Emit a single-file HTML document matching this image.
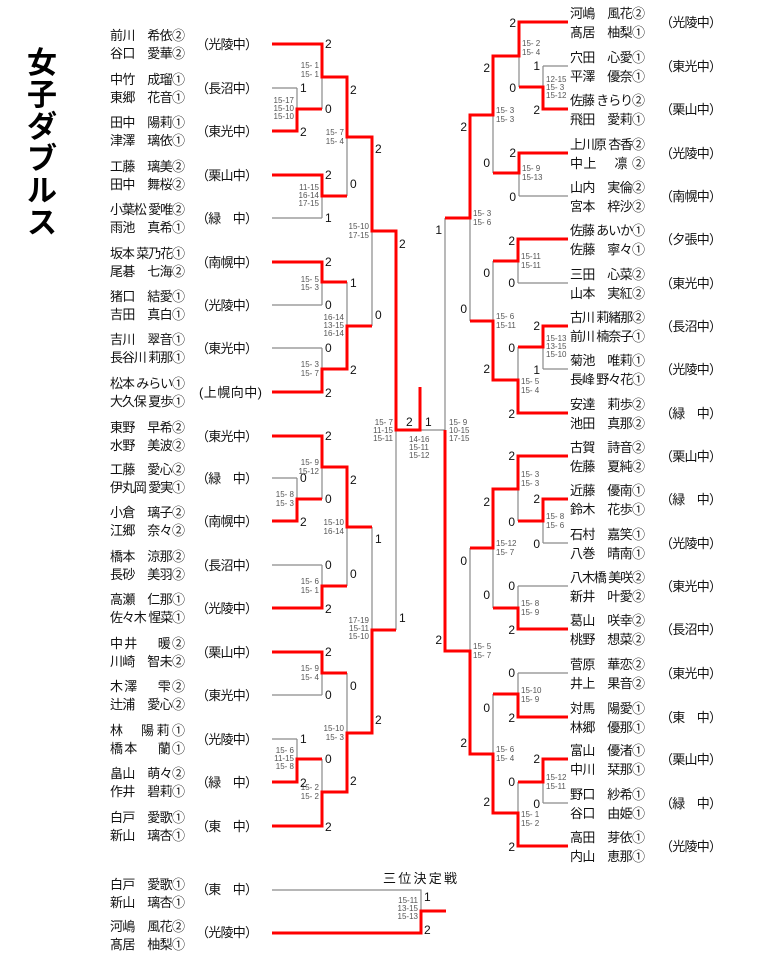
<!DOCTYPE html>
<html><head><meta charset="utf-8"><style>
html,body{margin:0;padding:0;background:#fff;}
svg{display:block;}
.n{font-family:"Liberation Sans","Noto Sans CJK JP",sans-serif;font-size:13px;fill:#111;}
.s{font-family:"Liberation Sans","Noto Sans CJK JP",sans-serif;font-size:8px;fill:#555;}
.sl{text-anchor:end;}
.k{font-family:"Liberation Sans",sans-serif;font-size:12px;fill:#111;}
.ke{font-family:"Liberation Sans",sans-serif;font-size:12px;fill:#111;text-anchor:end;}
.g{stroke:#8a8a8a;stroke-width:1.2;fill:none;}
.r{stroke:#f00;stroke-width:3;fill:none;stroke-linejoin:miter;}
</style></head><body>
<svg width="768" height="960" viewBox="0 0 768 960" xmlns="http://www.w3.org/2000/svg">
<text font-family="'Liberation Sans','Noto Sans CJK JP',sans-serif" font-size="30" font-weight="bold" text-anchor="middle" fill="#000">
<tspan x="42" y="73">女</tspan><tspan x="42" y="105">子</tspan><tspan x="42" y="137">ダ</tspan><tspan x="42" y="169">ブ</tspan><tspan x="42" y="201">ル</tspan><tspan x="42" y="233">ス</tspan>
</text>

<path class="g" d="M272 44H322M272 88H297M272 131H297M272 175H322M272 218H322M272 262H322M272 305H322M272 348H322M272 392H322M272 436H322M272 478H297M272 521H297M272 565H322M272 608H322M272 652H322M272 695H322M272 739H297M272 782H297M272 826H322"/>
<path class="g" d="M297 88V131M322 44V109M322 175V218M347 77V196M322 262V305M322 348V392M347 282V369M372 137V326M297 478V521M322 436V499M322 565V608M347 467V586M322 652V695M297 739V782M322 759V826M347 673V792M372 527V733M396 231V630M420 430H445"/>
<path class="g" d="M568 22H519M568 66H543M568 109H543M568 153H519M568 196H519M568 239H518M568 283H518M568 326H543M568 369H543M568 413H518M568 456H518M568 499H543M568 543H543M568 586H518M568 629H518M568 673H518M568 717H518M568 759H543M568 803H543M568 846H518"/>
<path class="g" d="M519 22V87M543 66V109M519 153V196M493 56V173M518 239V283M543 326V369M518 347V413M493 261V380M470 115V321M518 456V521M543 499V543M518 586V629M493 489V608M518 673V717M543 759V803M518 782V846M493 694V813M470 548V754M445 218V651"/>

<polyline class="r" points="272,44 322,44 322,77 347,77 347,137 372,137 372,231 396,231 396,430 420,430 420,387"/>
<polyline class="r" points="272,131 297,131 297,109 322,109"/>
<polyline class="r" points="272,175 322,175 322,196 347,196"/>
<polyline class="r" points="272,262 322,262 322,282 347,282"/>
<polyline class="r" points="272,392 322,392 322,369 347,369 347,326 372,326"/>
<polyline class="r" points="272,436 322,436 322,467 347,467 347,527 372,527"/>
<polyline class="r" points="272,521 297,521 297,499 322,499"/>
<polyline class="r" points="272,608 322,608 322,586 347,586"/>
<polyline class="r" points="272,652 322,652 322,673 347,673"/>
<polyline class="r" points="272,782 297,782 297,759 322,759"/>
<polyline class="r" points="272,826 322,826 322,792 347,792 347,733 372,733 372,630 396,630"/>
<polyline class="r" points="568,22 519,22 519,56 493,56 493,115 470,115 470,218 445,218"/>
<polyline class="r" points="568,109 543,109 543,87 519,87"/>
<polyline class="r" points="568,153 519,153 519,173 493,173"/>
<polyline class="r" points="568,239 518,239 518,261 493,261"/>
<polyline class="r" points="568,326 543,326 543,347 518,347"/>
<polyline class="r" points="568,413 518,413 518,380 493,380 493,321 470,321"/>
<polyline class="r" points="568,456 518,456 518,489 493,489 493,548 470,548"/>
<polyline class="r" points="568,499 543,499 543,521 518,521"/>
<polyline class="r" points="568,629 518,629 518,608 493,608"/>
<polyline class="r" points="568,717 518,717 518,694 493,694"/>
<polyline class="r" points="568,759 543,759 543,782 518,782"/>
<polyline class="r" points="568,846 518,846 518,813 493,813 493,754 470,754 470,651 445,651 445,430"/>

<g class="n">
<text x="110" y="40" textLength="75">前川　希依②</text><text x="110" y="58" textLength="75">谷口　愛華②</text>
<text x="110" y="84" textLength="75">中竹　成瑠①</text><text x="110" y="102" textLength="75">東郷　花音①</text>
<text x="110" y="127" textLength="75">田中　陽莉①</text><text x="110" y="145" textLength="75">津澤　璃依①</text>
<text x="110" y="171" textLength="75">工藤　璃美②</text><text x="110" y="189" textLength="75">田中　舞桜②</text>
<text x="110" y="214" textLength="75">小葉松 愛唯②</text><text x="110" y="232" textLength="75">雨池　真希①</text>
<text x="110" y="258" textLength="75">坂本 菜乃花①</text><text x="110" y="276" textLength="75">尾碁　七海②</text>
<text x="110" y="301" textLength="75">猪口　結愛①</text><text x="110" y="319" textLength="75">吉田　真白①</text>
<text x="110" y="344" textLength="75">吉川　翠音①</text><text x="110" y="362" textLength="75">長谷川 莉那①</text>
<text x="110" y="388" textLength="75">松本 みらい①</text><text x="110" y="406" textLength="75">大久保 夏歩①</text>
<text x="110" y="432" textLength="75">東野　早希②</text><text x="110" y="450" textLength="75">水野　美波②</text>
<text x="110" y="474" textLength="75">工藤　愛心②</text><text x="110" y="492" textLength="75">伊丸岡 愛実①</text>
<text x="110" y="517" textLength="75">小倉　璃子②</text><text x="110" y="535" textLength="75">江郷　奈々②</text>
<text x="110" y="561" textLength="75">橋本　涼那②</text><text x="110" y="579" textLength="75">長砂　美羽②</text>
<text x="110" y="604" textLength="75">高瀬　仁那①</text><text x="110" y="622" textLength="75">佐々木 惺菜①</text>
<text x="110" y="648" textLength="75">中井　 暖②</text><text x="110" y="666" textLength="75">川崎　智未②</text>
<text x="110" y="691" textLength="75">木澤　 雫②</text><text x="110" y="709" textLength="75">辻浦　愛心②</text>
<text x="110" y="735" textLength="75">林　陽莉①</text><text x="110" y="753" textLength="75">橋本　 蘭①</text>
<text x="110" y="778" textLength="75">畠山　萌々②</text><text x="110" y="796" textLength="75">作井　碧莉①</text>
<text x="110" y="822" textLength="75">白戸　愛歌①</text><text x="110" y="840" textLength="75">新山　璃杏①</text>
<text x="110" y="889" textLength="75">白戸　愛歌①</text><text x="110" y="907" textLength="75">新山　璃杏①</text>
<text x="110" y="931" textLength="75">河嶋　風花②</text><text x="110" y="949" textLength="75">髙居　柚梨①</text>
</g>
<g class="n">
<text x="196" y="49" textLength="62">（光陵中）</text>
<text x="196" y="93" textLength="62">（長沼中）</text>
<text x="196" y="136" textLength="62">（東光中）</text>
<text x="196" y="180" textLength="62">（栗山中）</text>
<text x="196" y="223" textLength="62">（緑　中）</text>
<text x="196" y="267" textLength="62">（南幌中）</text>
<text x="196" y="310" textLength="62">（光陵中）</text>
<text x="196" y="353" textLength="62">（東光中）</text>
<text x="199" y="397" textLength="63">(上幌向中)</text>
<text x="196" y="441" textLength="62">（東光中）</text>
<text x="196" y="483" textLength="62">（緑　中）</text>
<text x="196" y="526" textLength="62">（南幌中）</text>
<text x="196" y="570" textLength="62">（長沼中）</text>
<text x="196" y="613" textLength="62">（光陵中）</text>
<text x="196" y="657" textLength="62">（栗山中）</text>
<text x="196" y="700" textLength="62">（東光中）</text>
<text x="196" y="744" textLength="62">（光陵中）</text>
<text x="196" y="787" textLength="62">（緑　中）</text>
<text x="196" y="831" textLength="62">（東　中）</text>
<text x="196" y="894" textLength="62">（東　中）</text>
<text x="196" y="937" textLength="62">（光陵中）</text>
</g>

<g class="n">
<text x="570" y="18" textLength="75">河嶋　風花②</text><text x="570" y="37" textLength="75">髙居　柚梨①</text>
<text x="570" y="62" textLength="75">穴田　心愛①</text><text x="570" y="81" textLength="75">平澤　優奈①</text>
<text x="570" y="105" textLength="75">佐藤 きらり②</text><text x="570" y="124" textLength="75">飛田　愛莉①</text>
<text x="570" y="149" textLength="75">上川原 杏香②</text><text x="570" y="168" textLength="75">中上　 凛 ②</text>
<text x="570" y="192" textLength="75">山内　実倫②</text><text x="570" y="211" textLength="75">宮本　梓沙②</text>
<text x="570" y="235" textLength="75">佐藤 あいか①</text><text x="570" y="254" textLength="75">佐藤　寧々①</text>
<text x="570" y="279" textLength="75">三田　心菜②</text><text x="570" y="298" textLength="75">山本　実紅②</text>
<text x="570" y="322" textLength="75">古川 莉緒那②</text><text x="570" y="341" textLength="75">前川 楠奈子①</text>
<text x="570" y="365" textLength="75">菊池　唯莉①</text><text x="570" y="384" textLength="75">長峰 野々花①</text>
<text x="570" y="409" textLength="75">安達　莉歩②</text><text x="570" y="428" textLength="75">池田　真那②</text>
<text x="570" y="452" textLength="75">古賀　詩音②</text><text x="570" y="471" textLength="75">佐藤　夏純②</text>
<text x="570" y="495" textLength="75">近藤　優南①</text><text x="570" y="514" textLength="75">鈴木　花歩①</text>
<text x="570" y="539" textLength="75">石村　嘉笑①</text><text x="570" y="558" textLength="75">八巻　晴南①</text>
<text x="570" y="582" textLength="75">八木橋 美咲②</text><text x="570" y="601" textLength="75">新井　叶愛②</text>
<text x="570" y="625" textLength="75">葛山　咲幸②</text><text x="570" y="644" textLength="75">桃野　想菜②</text>
<text x="570" y="669" textLength="75">菅原　華恋②</text><text x="570" y="688" textLength="75">井上　果音②</text>
<text x="570" y="713" textLength="75">対馬　陽愛①</text><text x="570" y="732" textLength="75">林郷　優那①</text>
<text x="570" y="755" textLength="75">富山　優渚①</text><text x="570" y="774" textLength="75">中川　栞那①</text>
<text x="570" y="799" textLength="75">野口　紗希①</text><text x="570" y="818" textLength="75">谷口　由姫①</text>
<text x="570" y="842" textLength="75">高田　芽依①</text><text x="570" y="861" textLength="75">内山　恵那①</text>
</g>
<g class="n">
<text x="660" y="27" textLength="62">（光陵中）</text>
<text x="660" y="71" textLength="62">（東光中）</text>
<text x="660" y="114" textLength="62">（栗山中）</text>
<text x="660" y="158" textLength="62">（光陵中）</text>
<text x="660" y="201" textLength="62">（南幌中）</text>
<text x="660" y="244" textLength="62">（夕張中）</text>
<text x="660" y="288" textLength="62">（東光中）</text>
<text x="660" y="331" textLength="62">（長沼中）</text>
<text x="660" y="374" textLength="62">（光陵中）</text>
<text x="660" y="418" textLength="62">（緑　中）</text>
<text x="660" y="461" textLength="62">（栗山中）</text>
<text x="660" y="504" textLength="62">（緑　中）</text>
<text x="660" y="548" textLength="62">（光陵中）</text>
<text x="660" y="591" textLength="62">（東光中）</text>
<text x="660" y="634" textLength="62">（長沼中）</text>
<text x="660" y="678" textLength="62">（東光中）</text>
<text x="660" y="722" textLength="62">（東　中）</text>
<text x="660" y="764" textLength="62">（栗山中）</text>
<text x="660" y="808" textLength="62">（緑　中）</text>
<text x="660" y="851" textLength="62">（光陵中）</text>
</g>

<g class="s sl">
<text x="294" y="103">15-17</text><text x="294" y="111">15-10</text><text x="294" y="119">15-10</text>
<text x="319" y="68">15- 1</text><text x="319" y="77">15- 1</text>
<text x="319" y="190">11-15</text><text x="319" y="198">16-14</text><text x="319" y="206">17-15</text>
<text x="344" y="135">15- 7</text><text x="344" y="144">15- 4</text>
<text x="319" y="282">15- 5</text><text x="319" y="290">15- 3</text>
<text x="319" y="367">15- 3</text><text x="319" y="376">15- 7</text>
<text x="344" y="320">16-14</text><text x="344" y="328">13-15</text><text x="344" y="336">16-14</text>
<text x="369" y="229">15-10</text><text x="369" y="238">17-15</text>
<text x="294" y="497">15- 8</text><text x="294" y="506">15- 3</text>
<text x="319" y="465">15- 9</text><text x="319" y="474">15-12</text>
<text x="319" y="584">15- 6</text><text x="319" y="593">15- 1</text>
<text x="344" y="525">15-10</text><text x="344" y="534">16-14</text>
<text x="319" y="671">15- 9</text><text x="319" y="680">15- 4</text>
<text x="294" y="753">15- 6</text><text x="294" y="761">11-15</text><text x="294" y="769">15- 8</text>
<text x="319" y="790">15- 2</text><text x="319" y="799">15- 2</text>
<text x="344" y="731">15-10</text><text x="344" y="740">15- 3</text>
<text x="369" y="623">17-19</text><text x="369" y="631">15-11</text><text x="369" y="639">15-10</text>
<text x="393" y="425">15- 7</text><text x="393" y="433">11-15</text><text x="393" y="441">15-11</text>
<text x="418" y="903">15-11</text><text x="418" y="911">13-15</text><text x="418" y="919">15-13</text>
</g>
<g class="s">
<text x="409" y="442">14-16</text><text x="409" y="450">15-11</text><text x="409" y="458">15-12</text>
<text x="449" y="425">15- 9</text><text x="449" y="433">10-15</text><text x="449" y="441">17-15</text>
<text x="522" y="46">15- 2</text><text x="522" y="55">15- 4</text>
<text x="546" y="82">12-15</text><text x="546" y="90">15- 3</text><text x="546" y="98">15-12</text>
<text x="522" y="171">15- 9</text><text x="522" y="180">15-13</text>
<text x="496" y="113">15- 3</text><text x="496" y="122">15- 3</text>
<text x="521" y="259">15-11</text><text x="521" y="268">15-11</text>
<text x="546" y="341">15-13</text><text x="546" y="349">13-15</text><text x="546" y="357">15-10</text>
<text x="521" y="384">15- 5</text><text x="521" y="393">15- 4</text>
<text x="496" y="319">15- 6</text><text x="496" y="328">15-11</text>
<text x="473" y="216">15- 3</text><text x="473" y="225">15- 6</text>
<text x="521" y="477">15- 3</text><text x="521" y="486">15- 3</text>
<text x="546" y="519">15- 8</text><text x="546" y="528">15- 6</text>
<text x="521" y="606">15- 8</text><text x="521" y="615">15- 9</text>
<text x="496" y="546">15-12</text><text x="496" y="555">15- 7</text>
<text x="521" y="693">15-10</text><text x="521" y="702">15- 9</text>
<text x="546" y="780">15-12</text><text x="546" y="789">15-11</text>
<text x="521" y="817">15- 1</text><text x="521" y="826">15- 2</text>
<text x="496" y="752">15- 6</text><text x="496" y="761">15- 4</text>
<text x="473" y="649">15- 5</text><text x="473" y="658">15- 7</text>
</g>

<g class="k">
<text x="300" y="92">1</text><text x="300" y="136">2</text>
<text x="325" y="48">2</text><text x="325" y="113">0</text>
<text x="325" y="179">2</text><text x="325" y="222">1</text>
<text x="350" y="94">2</text><text x="350" y="188">0</text>
<text x="325" y="266">2</text><text x="325" y="309">0</text>
<text x="325" y="352">0</text><text x="325" y="397">2</text>
<text x="350" y="287">1</text><text x="350" y="374">2</text>
<text x="375" y="153">2</text><text x="375" y="319">0</text>
<text x="300" y="482">0</text><text x="300" y="526">2</text>
<text x="325" y="440">2</text><text x="325" y="503">0</text>
<text x="325" y="569">0</text><text x="325" y="613">2</text>
<text x="350" y="484">2</text><text x="350" y="578">0</text>
<text x="325" y="656">2</text><text x="325" y="699">0</text>
<text x="300" y="743">1</text><text x="300" y="787">2</text>
<text x="325" y="763">0</text><text x="325" y="831">2</text>
<text x="350" y="690">0</text><text x="350" y="785">2</text>
<text x="375" y="543">1</text><text x="375" y="724">2</text>
<text x="399" y="248">2</text><text x="399" y="622">1</text>
<text x="406" y="426">2</text><text x="425" y="426">1</text>
<text x="424" y="901">1</text><text x="424" y="934">2</text>
</g>
<g class="ke">
<text x="516" y="27">2</text><text x="516" y="92">0</text>
<text x="540" y="70">1</text><text x="540" y="114">2</text>
<text x="490" y="72">2</text><text x="490" y="167">0</text>
<text x="516" y="157">2</text><text x="516" y="201">0</text>
<text x="467" y="131">2</text><text x="467" y="313">0</text>
<text x="515" y="245">2</text><text x="515" y="287">0</text>
<text x="490" y="277">0</text><text x="490" y="373">2</text>
<text x="540" y="330">2</text><text x="540" y="374">1</text>
<text x="515" y="352">0</text><text x="515" y="418">2</text>
<text x="442" y="234">1</text><text x="442" y="644">2</text>
<text x="515" y="460">2</text><text x="515" y="526">0</text>
<text x="540" y="503">2</text><text x="540" y="548">0</text>
<text x="490" y="506">2</text><text x="490" y="599">0</text>
<text x="515" y="590">0</text><text x="515" y="634">2</text>
<text x="467" y="565">0</text><text x="467" y="747">2</text>
<text x="515" y="677">0</text><text x="515" y="722">2</text>
<text x="490" y="712">0</text><text x="490" y="806">2</text>
<text x="540" y="763">2</text><text x="540" y="808">0</text>
<text x="515" y="786">0</text><text x="515" y="851">2</text>
</g>

<path class="g" d="M272 890H421V933"/>
<polyline class="r" points="272,933 421,933 421,911 446,911"/>
<text x="383" y="883" font-family="'Liberation Sans','Noto Sans CJK JP',sans-serif" font-size="13" fill="#111" textLength="74">三位決定戦</text>
</svg>
</body></html>
